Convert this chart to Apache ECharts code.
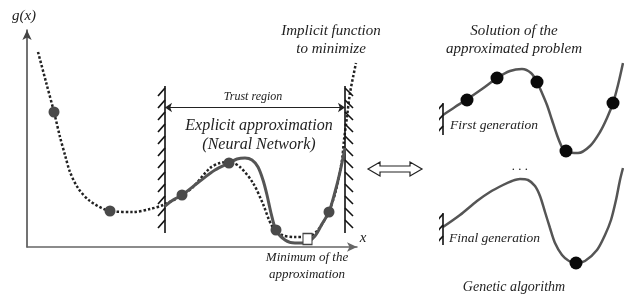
<!DOCTYPE html>
<html>
<head>
<meta charset="utf-8">
<script src="https://cdn.jsdelivr.net/npm/echarts@6/dist/echarts.min.js"></script>
<style>
  html, body { margin: 0; padding: 0; background: #fff; }
  #main { width: 624px; height: 296px; }
</style>
</head>
<body>
<div id="main"></div>
<script>
// left panel: implicit function (dotted) and its NN approximation (solid)
var implicitCurve = [[11,195],[19,165],[27,135],[33,110],[38,92],[43,75],[51,59],[63,46],[83,36],[106,35],[123,38],[136,42],[154,51],[166,60],[183,79],[193,84],[202,85],[213,80],[226,64],[236,43],[245,21],[255,12],[268,10],[280,10],[291,17],[302,36],[309,57],[315,87],[317,107],[320,130],[323,154],[329,184]];
var approxCurve = [[138,41],[146,47],[155,52],[173,66],[188,77],[202,84],[210,88],[218,89],[225,87],[231,80],[236,67],[240,52],[244,34],[249,17],[258,7],[268,4],[278,4],[288,11],[295,23],[302,35],[308,55],[313,75],[318,99]];
var samplePoints = [[27,135],[83,36],[155,52],[202,84],[249,17],[302,35]];
var approxMinimum = [[280.5,8]];
var trustLeft = 138, trustRight = 318, wallTop = 161, wallBottom = 14;
var hatchTops = [159,147,135,123,111,99,87,75,63,51,39,27];

// right panel: genetic algorithm generations
var firstGen = [[3,155],[15,163],[26,170],[42,181],[57,192],[70,199],[82,201],[91,197],[97,188],[102,177],[107,165],[112,150],[117,135],[122,123],[127,118],[138,117],[150,124],[160,138],[167,152],[173,167],[178,185],[183,207]];
var firstGenPop = [[27,170],[57,192],[97,188],[126,119],[173,167]];
var finalGen = [[3,43],[20,55],[37,69],[50,78],[63,85],[72,89],[80,91],[88,90],[95,84],[100,74],[105,58],[110,42],[115,27],[122,15],[129,9],[136,7],[145,9],[157,20],[165,35],[171,50],[176,70],[180,90],[183,102]];
var finalGenPop = [[136,7]];
var gaWall = 3;
var gaWalls = [[167,135],[57,25]];
var gaHatchTops = [[166,155,144],[56,45,34]];

var serif = '"Liberation Serif", "DejaVu Serif", serif';
function txt(s, x, y, size, align) {
  return { type: 'text', x: x, y: y, silent: true,
    style: { text: s, font: 'italic ' + size + 'px ' + serif, fill: '#222',
             align: align || 'center', verticalAlign: 'middle' } };
}

var wallLines = [];
[trustLeft, trustRight].forEach(function (wx) {
  wallLines.push({ coords: [[wx, wallTop], [wx, wallBottom]] });
});
hatchTops.forEach(function (t) {
  wallLines.push({ coords: [[trustLeft - 7, t - 8], [trustLeft, t]] });
  wallLines.push({ coords: [[trustRight, t], [trustRight + 8, t - 8]] });
});
var gaWallLines = [];
gaWalls.forEach(function (w, i) {
  gaWallLines.push({ coords: [[gaWall, w[0]], [gaWall, w[1]]] });
  gaHatchTops[i].forEach(function (t) {
    gaWallLines.push({ coords: [[gaWall - 7, t - 8], [gaWall, t]] });
  });
});

var myChart = echarts.init(document.getElementById('main'));
var option = {
  animation: false,
  backgroundColor: '#fff',
  grid: [
    { left: 27, top: 30, width: 330, height: 217 },
    { left: 440, top: 55, width: 184, height: 215 }
  ],
  xAxis: [
    { gridIndex: 0, type: 'value', min: 0, max: 330,
      axisLine: { show: true, symbol: ['none', 'arrow'], symbolSize: [7, 10], lineStyle: { color: '#666', width: 1.5 } },
      axisTick: { show: false }, axisLabel: { show: false }, splitLine: { show: false } },
    { gridIndex: 1, type: 'value', min: 0, max: 184, show: false }
  ],
  yAxis: [
    { gridIndex: 0, type: 'value', min: 0, max: 217,
      axisLine: { show: true, symbol: ['none', 'arrow'], symbolSize: [7, 10], lineStyle: { color: '#444', width: 1.5 } },
      axisTick: { show: false }, axisLabel: { show: false }, splitLine: { show: false } },
    { gridIndex: 1, type: 'value', min: 0, max: 215, show: false }
  ],
  series: [
    { type: 'line', xAxisIndex: 0, yAxisIndex: 0, data: implicitCurve, smooth: 0.3, showSymbol: false, z: 2,
      lineStyle: { color: '#222', width: 2.5, type: [2.5, 2] } },
    { type: 'line', xAxisIndex: 0, yAxisIndex: 0, data: approxCurve, smooth: 0.3, showSymbol: false, z: 3,
      lineStyle: { color: '#555', width: 3 } },
    { type: 'scatter', xAxisIndex: 0, yAxisIndex: 0, data: samplePoints, symbolSize: 11, z: 4,
      itemStyle: { color: '#4a4a4a', opacity: 1 } },
    { type: 'scatter', xAxisIndex: 0, yAxisIndex: 0, data: approxMinimum, symbol: 'rect', symbolSize: [9, 11], z: 5,
      itemStyle: { color: '#fff', borderColor: '#444', borderWidth: 1.2, opacity: 1 } },
    { type: 'lines', coordinateSystem: 'cartesian2d', xAxisIndex: 0, yAxisIndex: 0, data: wallLines, z: 3,
      lineStyle: { color: '#111', width: 1.6, curveness: 0, opacity: 1 } },
    { type: 'lines', coordinateSystem: 'cartesian2d', xAxisIndex: 0, yAxisIndex: 0, z: 3,
      data: [{ coords: [[trustLeft, 139.5], [trustRight, 139.5]] }],
      symbol: ['arrow', 'arrow'], symbolSize: 7,
      lineStyle: { color: '#222', width: 1, curveness: 0, opacity: 1 } },

    { type: 'line', xAxisIndex: 1, yAxisIndex: 1, data: firstGen, smooth: 0.3, showSymbol: false, z: 2,
      lineStyle: { color: '#555', width: 2.5 } },
    { type: 'line', xAxisIndex: 1, yAxisIndex: 1, data: finalGen, smooth: 0.3, showSymbol: false, z: 2,
      lineStyle: { color: '#555', width: 2.5 } },
    { type: 'scatter', xAxisIndex: 1, yAxisIndex: 1, data: firstGenPop.concat(finalGenPop), symbolSize: 13, z: 4,
      itemStyle: { color: '#0a0a0a', opacity: 1 } },
    { type: 'lines', coordinateSystem: 'cartesian2d', xAxisIndex: 1, yAxisIndex: 1, data: gaWallLines, z: 3,
      lineStyle: { color: '#111', width: 1.6, curveness: 0, opacity: 1 } }
  ],
  graphic: [
    txt('g(x)', 24, 16, 15),
    txt('x', 363, 238, 15),
    txt('Implicit function', 331, 31, 15),
    txt('to minimize', 331, 49, 15),
    txt('Trust region', 253, 97, 12),
    txt('Explicit approximation', 259, 126, 16),
    txt('(Neural Network)', 259, 145, 16),
    txt('Minimum of the', 307, 258, 13),
    txt('approximation', 307, 275, 13),
    txt('Solution of the', 514, 31, 15),
    txt('approximated problem', 514, 49, 15),
    txt('First generation', 450, 125, 13.5, 'left'),
    txt('. . .', 520, 167, 13),
    txt('Final generation', 449, 238, 13.5, 'left'),
    txt('Genetic algorithm', 514, 287, 14),
    { type: 'polygon', silent: true,
      shape: { points: [[368,169],[380,162],[380,166],[410,166],[410,162],[422,169],[410,176],[410,172],[380,172],[380,176]] },
      style: { fill: '#fff', stroke: '#222', lineWidth: 1.2 } }
  ]
};
myChart.setOption(option);
</script>
</body>
</html>
